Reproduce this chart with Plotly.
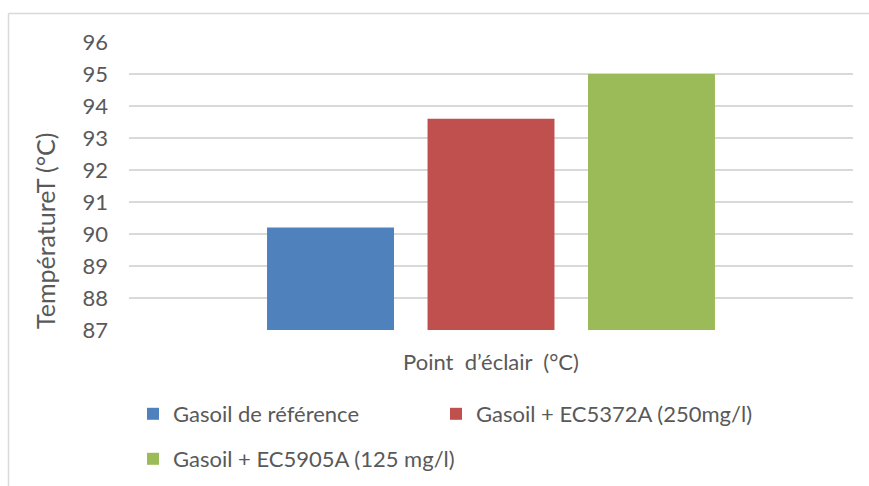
import plotly.graph_objects as go

# Data
category = "Point\u00a0 d\u2019éclair\u00a0 (°C)"
series_names = [
    "Gasoil de référence",
    "Gasoil + EC5372A (250mg/l)",
    "Gasoil + EC5905A (125 mg/l)",
]
series_values = [90.2, 93.6, 95.0]
series_colors = ["#4F81BD", "#C0504D", "#9BBB59"]
y_ticks = list(range(87, 97))

# Canvas / plot area geometry (pixels)
W, H = 869, 486
ML, MR, MT, MB = 129, 16, 42, 156
PW, PH = W - ML - MR, H - MT - MB

FONT = "Lato"
TXT = "#595959"
GRID = "#D9D9D9"
FS = 22


def px_x(x):
    return (x - ML) / PW


def px_y(y):
    return (H - MB - y) / PH


fig = go.Figure()
legend_ids = ["legend", "legend2", "legend3"]
for name, val, col, lg in zip(series_names, series_values, series_colors, legend_ids):
    fig.add_trace(go.Bar(
        x=[category], y=[val], name=name,
        marker=dict(color=col, line=dict(width=0)),
        legend=lg, showlegend=True,
    ))

legend_style = dict(
    font=dict(family=FONT, size=FS, color=TXT),
    bgcolor="rgba(0,0,0,0)", borderwidth=0,
    xanchor="left", yanchor="middle",
    itemwidth=30, tracegroupgap=0, visible=True,
)

fig.update_layout(
    width=W, height=H,
    margin=dict(l=ML, r=MR, t=MT, b=MB, pad=0, autoexpand=False),
    paper_bgcolor="white", plot_bgcolor="white",
    showlegend=True,
    barmode="group", bargap=0.335, bargroupgap=0.209,
    font=dict(family=FONT, size=FS, color=TXT),
    legend=dict(**legend_style, x=px_x(133), y=px_y(414)),
    legend2=dict(**legend_style, x=px_x(436), y=px_y(414)),
    legend3=dict(**legend_style, x=px_x(133), y=px_y(459)),
    xaxis=dict(
        type="category", showgrid=False, zeroline=False, showline=False,
        ticks="", ticklabelstandoff=17,
        tickfont=dict(family=FONT, size=FS, color=TXT),
    ),
    yaxis=dict(
        range=[87, 96], tickvals=y_ticks, showgrid=True,
        gridcolor=GRID, gridwidth=1.5, zeroline=False, showline=False,
        ticks="", ticklabelstandoff=20,
        tickfont=dict(family=FONT, size=FS, color=TXT),
    ),
    annotations=[dict(
        text="TempératureT (°C)", textangle=-90,
        xref="paper", yref="paper", x=px_x(45), y=px_y(231),
        xanchor="center", yanchor="middle", showarrow=False,
        font=dict(family=FONT, size=25, color=TXT),
    )],
    shapes=[
        # chart frame (left and top edges)
        dict(type="line", xref="paper", yref="paper",
             x0=px_x(8.5), x1=px_x(8.5), y0=px_y(13.5), y1=px_y(H + 5),
             line=dict(color=GRID, width=1.5)),
        dict(type="line", xref="paper", yref="paper",
             x0=px_x(8.5), x1=px_x(W + 5), y0=px_y(13.5), y1=px_y(13.5),
             line=dict(color=GRID, width=1.5)),
    ],
)

fig.write_html("out.html")
